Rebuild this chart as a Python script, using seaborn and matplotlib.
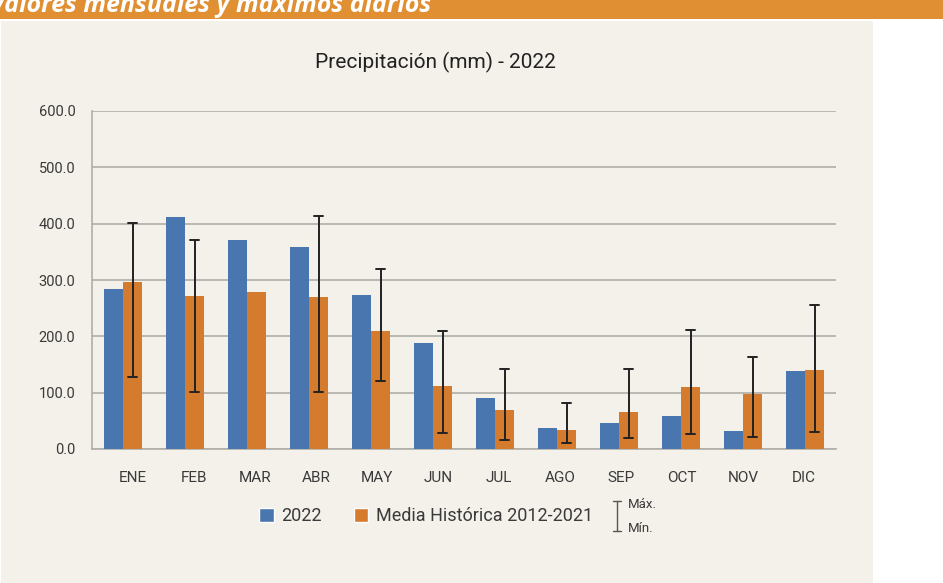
import matplotlib
matplotlib.use("Agg")
import matplotlib.pyplot as plt
import matplotlib.transforms as mtransforms
import seaborn as sns
import pandas as pd
import numpy as np
from matplotlib.patches import Rectangle
from matplotlib.lines import Line2D

months = ["ENE", "FEB", "MAR", "ABR", "MAY", "JUN", "JUL", "AGO", "SEP", "OCT", "NOV", "DIC"]
prec_2022 = [284, 412, 371, 358, 273, 188, 90, 38, 46, 58, 32, 139]
media_hist = [296, 272, 278, 269, 209, 112, 70, 33, 65, 110, 98, 141]
hist_max = [401, 371, np.nan, 414, 320, 210, 142, 82, 142, 211, 163, 256]
hist_min = [128, 101, np.nan, 101, 121, 28, 16, 11, 19, 26, 22, 31]
series_names = ["2022", "Media Histórica 2012-2021"]
yticks = [0, 100, 200, 300, 400, 500, 600]

BLUE = "#4a76b0"
ORANGE = "#d57b2e"
BEIGE = "#f4f1ea"
HEADER = "#e09033"
GRID = "#b0aea8"
TXT = "#3a3a3a"

sns.set_theme(style="white")
plt.rcParams["font.family"] = ["Roboto", "DejaVu Sans"]

df = pd.DataFrame({
    "mes": months * 2,
    "serie": [series_names[0]] * 12 + [series_names[1]] * 12,
    "valor": prec_2022 + media_hist,
})

fig = plt.figure(figsize=(9.43, 5.83), dpi=100, facecolor="white")
# beige panel and header
fig.patches.append(Rectangle((1 / 943, 0), 872 / 943, 1 - 21 / 583, transform=fig.transFigure,
                             facecolor=BEIGE, edgecolor="none", zorder=-2))
fig.patches.append(Rectangle((0, 1 - 19 / 583), 1, 19 / 583, transform=fig.transFigure,
                             facecolor=HEADER, edgecolor="none", zorder=-2))
fig.text(431 / 943, 1 - 12.5 / 583, "Valores mensuales y máximos diarios", ha="right", va="baseline",
         color="white", fontsize=18, fontweight="bold", fontstyle="italic",
         family=["Open Sans", "DejaVu Sans"])

ax = fig.add_axes([92 / 943, 1 - 449 / 583, (836 - 92) / 943, (449 - 111) / 583])
ax.set_facecolor("none")

sns.barplot(data=df, x="mes", y="valor", hue="serie", order=months, hue_order=series_names,
            palette=[BLUE, ORANGE], width=0.62, saturation=1, ax=ax, legend=False,
            edgecolor="none", linewidth=0, zorder=3)

# error bars on orange bars
obars = ax.containers[1]
xs = [b.get_x() + b.get_width() / 2 for b in obars]
for x, lo, hi in zip(xs, hist_min, hist_max):
    if np.isnan(lo):
        continue
    ax.plot([x, x], [lo, hi], color="#222222", lw=1.4, zorder=5, solid_capstyle="butt")
    ax.plot([x - 0.075, x + 0.075], [hi, hi], color="#222222", lw=1.4, zorder=5)
    ax.plot([x - 0.075, x + 0.075], [lo, lo], color="#222222", lw=1.4, zorder=5)

ax.set_ylim(0, 600)
ax.set_xlim(-0.5, 11.5)
ax.set_yticks(yticks)
ax.set_yticklabels([f"{v:.1f}" for v in yticks])
ax.yaxis.grid(True, color=GRID, lw=1.2)
ax.set_axisbelow(True)
ax.set_xlabel("")
ax.set_ylabel("")
for s in ["top", "right"]:
    ax.spines[s].set_visible(False)
for s in ["left", "bottom"]:
    ax.spines[s].set_color(GRID)
    ax.spines[s].set_linewidth(1.2)
ax.tick_params(axis="both", length=0, colors=TXT, labelsize=10.5)
ax.tick_params(axis="x", pad=16, labelsize=11)
ax.tick_params(axis="y", pad=12)
# month labels in the reference sit slightly right of the bar groups on the left side
for i, lbl in enumerate(ax.get_xticklabels()):
    lbl.set_transform(lbl.get_transform() +
                      mtransforms.ScaledTranslation((10 - i) / 100, 0, fig.dpi_scale_trans))

fig.text(435 / 943, 1 - 62 / 583, "Precipitación (mm) - 2022", ha="center", va="center",
         fontsize=15, color="#222222")

# legend
handles = [Rectangle((0, 0), 1, 1, facecolor=BLUE), Rectangle((0, 0), 1, 1, facecolor=ORANGE)]
leg = fig.legend(handles, series_names, loc="center", bbox_to_anchor=(426 / 943, 1 - 516 / 583),
                 ncol=2, frameon=False, fontsize=13, handlelength=0.8, handleheight=0.8,
                 handletextpad=0.4, columnspacing=1.8, labelcolor=TXT)

# Max/Min legend symbol
xl = 617 / 943
y_top = 1 - 501 / 583
y_bot = 1 - 531 / 583
fig.lines.append(Line2D([xl, xl], [y_bot, y_top], transform=fig.transFigure, color="#555555", lw=1))
fig.lines.append(Line2D([xl - 4 / 943, xl + 4 / 943], [y_top, y_top], transform=fig.transFigure, color="#555555", lw=1))
fig.lines.append(Line2D([xl - 4 / 943, xl + 4 / 943], [y_bot, y_bot], transform=fig.transFigure, color="#555555", lw=1))
fig.text(628 / 943, 1 - 504 / 583, "Máx.", ha="left", va="center", fontsize=9.5, color=TXT)
fig.text(628 / 943, 1 - 529 / 583, "Mín.", ha="left", va="center", fontsize=9.5, color=TXT)

fig.savefig("out.png", dpi=100, facecolor="white")
